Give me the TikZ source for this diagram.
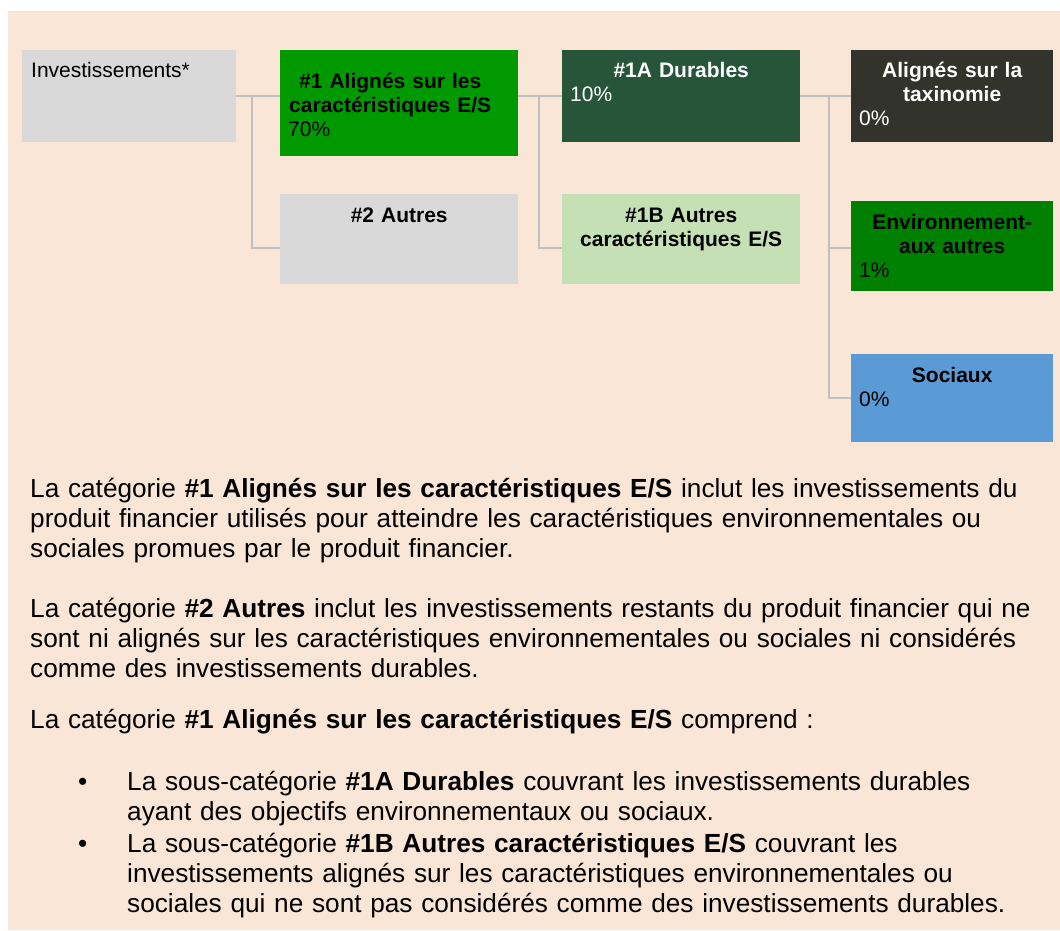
\documentclass[tikz,border=0pt]{standalone}
\usepackage{fontspec}
\setmainfont{Liberation Sans}
\usetikzlibrary{positioning}
\definecolor{peach}{HTML}{FAE6D6}
\definecolor{boxgray}{HTML}{D9D9D9}
\definecolor{esgreen}{HTML}{009900}
\definecolor{durgreen}{HTML}{26553A}
\definecolor{autgreen}{HTML}{C5E0B4}
\definecolor{taxdark}{HTML}{32332B}
\definecolor{envgreen}{HTML}{008000}
\definecolor{socblue}{HTML}{5B9BD5}
\definecolor{linkgray}{HTML}{C0C0C0}
\newcommand{\boxfont}{\fontsize{21}{24}\selectfont}
\newcommand{\parafont}{\fontsize{26.2}{30}\selectfont}

\begin{document}
\begin{tikzpicture}[x=1pt, y=-1pt,
		box/.style={rectangle, anchor=north west, inner sep=0pt},
		boxtext/.style={inner sep=0pt, font=\boxfont, anchor=base west},
		link/.style={draw=linkgray, line width=2pt},
		para/.style={inner sep=0pt, anchor=base west, text width=1020pt, align=left, font=\parafont}]
			\useasboundingbox (0,0) rectangle (1060,930);
			\fill[white] (0,0) rectangle (1060,930);
			\fill[peach] (8,11) rectangle (1060,930);
			% boxes
			\node[box, fill=boxgray, minimum width=214pt, minimum height=92pt] (inv) at (22,50) {};
			\node[box, fill=esgreen, minimum width=238pt, minimum height=106pt] (es) at (280,50) {};
			\node[box, fill=boxgray, minimum width=238pt, minimum height=90pt] (oth) at (280,194) {};
			\node[box, fill=durgreen, minimum width=238pt, minimum height=92pt] (dur) at (562,50) {};
			\node[box, fill=autgreen, minimum width=238pt, minimum height=90pt] (aut) at (562,194) {};
			\node[box, fill=taxdark, minimum width=202pt, minimum height=92pt] (tax) at (851,50) {};
			\node[box, fill=envgreen, minimum width=202pt, minimum height=90pt] (env) at (851,201) {};
			\node[box, fill=socblue, minimum width=202pt, minimum height=88pt] (soc) at (851,354) {};
			% box texts
			\node[boxtext] (inv text) [below right=27pt and 9pt of inv.north west, anchor=base west] {Investissements*};
			\node[boxtext, text width=204pt] (es text) [below right=38pt and 8pt of es.north west, anchor=base west]
				{{\centering\bfseries \#1 Alignés sur les\\caractéristiques E/S\par}70\%};
			\node[boxtext, text width=222pt] (oth text) [below right=28pt and 8pt of oth.north west, anchor=base west]
				{{\centering\bfseries \#2 Autres\par}};
			\node[boxtext, text width=222pt, text=white] (dur text) [below right=27pt and 8pt of dur.north west, anchor=base west]
				{{\centering\bfseries \#1A Durables\par}10\%};
			\node[boxtext, text width=222pt] (aut text) [below right=28pt and 8pt of aut.north west, anchor=base west]
				{{\centering\bfseries \#1B Autres\\caractéristiques E/S\par}};
			\node[boxtext, text width=186pt, text=white] (tax text) [below right=27pt and 8pt of tax.north west, anchor=base west]
				{{\centering\bfseries Alignés sur la\\taxinomie\par}0\%};
			\node[boxtext, text width=186pt] (env text) [below right=28pt and 8pt of env.north west, anchor=base west]
				{{\centering\bfseries Environnement-\\aux autres\par}1\%};
			\node[boxtext, text width=186pt] (soc text) [below right=28pt and 8pt of soc.north west, anchor=base west]
				{{\centering\bfseries Sociaux\par}0\%};
			% connectors
			\coordinate (fork1) at (252,96);
			\coordinate (fork2) at (539,96);
			\coordinate (fork3) at (829,96);
			\draw[link] (inv.east) -- (es.west |- inv.east);
			\draw[link] (fork1) |- ([yshift=-9pt]oth.west);
			\draw[link] (es.east |- dur.west) -- (dur.west);
			\draw[link] (fork2) |- ([yshift=-9pt]aut.west);
			\draw[link] (dur.east) -- (tax.west);
			\draw[link] (fork3) |- ([yshift=-2pt]env.west);
			\draw[link] (fork3) |- (soc.west);
			% explanations
			\node[para] (p1) at (30,497) {La catégorie \textbf{\#1 Alignés sur les caractéristiques E/S} inclut les investissements du\\
				produit financier utilisés pour atteindre les caractéristiques environnementales ou\\
				sociales promues par le produit financier.};
			\node[para] (p2) at (30,617) {La catégorie \textbf{\#2 Autres} inclut les investissements restants du produit financier qui ne\\
				sont ni alignés sur les caractéristiques environnementales ou sociales ni considérés\\
				comme des investissements durables.};
			\node[para] (p3) at (30,728) {La catégorie \textbf{\#1 Alignés sur les caractéristiques E/S} comprend :};
			\node[para, text width=30pt] (dot1) at (78,790) {\textbullet};
			\node[para, text width=920pt] (item1) at (127,790) {La sous-catégorie \textbf{\#1A Durables} couvrant les investissements durables\\
				ayant des objectifs environnementaux ou sociaux.};
			\node[para, text width=30pt] (dot2) at (78,852) {\textbullet};
			\node[para, text width=920pt] (item2) at (127,852) {La sous-catégorie \textbf{\#1B Autres caractéristiques E/S} couvrant les\\
				investissements alignés sur les caractéristiques environnementales ou\\
				sociales qui ne sont pas considérés comme des investissements durables.};
		\end{tikzpicture}
\end{document}
